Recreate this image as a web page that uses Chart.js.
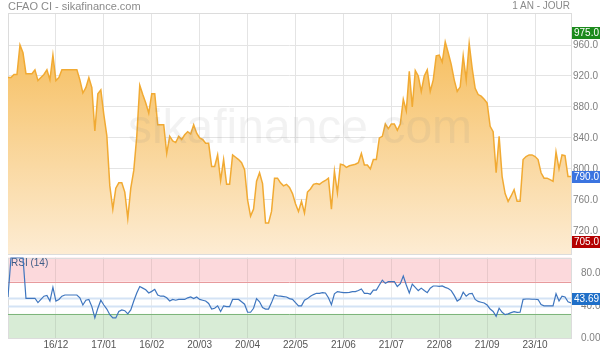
<!DOCTYPE html>
<html>
<head>
<meta charset="utf-8">
<script src="https://cdn.jsdelivr.net/npm/chart.js@4/dist/chart.umd.min.js"></script>
<style>
  html, body { margin: 0; padding: 0; background: #fff; }
  #cadre { position: relative; width: 600px; height: 351px; overflow: hidden; font-family: "Liberation Sans", Arial, sans-serif; }
  #titre { position: absolute; left: 8px; top: 0; font-size: 11px; line-height: 12px; color: #8a8a8a; }
  #periode { position: absolute; right: 30px; top: 0; font-size: 10px; line-height: 12px; color: #8a8a8a; }
  #cours { position: absolute; left: 0; top: 0; }
  #rsi { position: absolute; left: 0; top: 256px; }
</style>
</head>
<body>
<div id="cadre">
  <canvas id="cours" width="600" height="256"></canvas>
  <canvas id="rsi" width="600" height="95"></canvas>
  <div id="titre">CFAO CI - sikafinance.com</div>
  <div id="periode">1 AN - JOUR</div>
</div>
<script>
// cours de clôture (1 an, quotidien)
const prix = [
  918, 918, 922, 922, 960, 950, 923, 923, 923, 928,
  914, 918, 922, 928, 915, 947, 914, 918, 928, 928,
  928, 928, 928, 928, 915, 898, 905, 918, 905, 849,
  897, 902, 870, 843, 778, 748, 775, 782, 782, 770,
  736, 775, 798, 842, 908, 896, 885, 872, 897, 897,
  857, 857, 857, 820, 842, 836, 834, 842, 838, 844,
  848, 845, 857, 846, 840, 838, 833, 833, 803, 803,
  818, 785, 812, 780, 780, 818, 815, 812, 808, 799,
  760, 739, 748, 784, 795, 781, 730, 730, 745, 788,
  788, 782, 778, 780, 776, 768, 755, 745, 758, 743,
  770, 774, 780, 781, 780, 783, 785, 788, 748, 797,
  769, 806, 805, 802, 804, 805, 806, 808, 820, 805,
  805, 800, 812, 812, 840, 842, 858, 852, 858, 858,
  850, 858, 890, 875, 926, 880, 927, 920, 900, 920,
  928, 900, 915, 946, 947, 938, 964, 950, 935, 915,
  900, 906, 946, 915, 962, 930, 904, 896, 894, 890,
  885, 855, 848, 795, 842, 790, 768, 758, 765, 773,
  758, 758, 812, 816, 818, 818, 816, 812, 795, 788,
  788, 786, 784, 822, 800, 818, 817, 790, 790
];

// RSI (14)
const rsi = [
  51, 100, 100, 100, 100, 100, 49.4, 49.4, 49.4, 49.4,
  44, 48, 52, 53, 46, 63, 46, 48, 52, 53.5,
  53.5, 53.5, 53.5, 53.5, 50, 41, 47, 48, 39, 25,
  37, 47, 41, 36, 29, 25, 25, 33, 35, 34,
  30, 35, 46, 56, 64, 62, 60, 56, 58, 60.5,
  53.5, 52, 52, 50, 46, 48, 47, 48, 48, 48,
  50, 51, 49, 51, 48, 47, 46, 43, 36, 37,
  40, 33, 40, 39, 39, 48, 48, 48, 45, 42,
  32, 32, 37, 49, 45, 38, 36, 36, 44, 53.5,
  52.5, 52, 51.5, 51, 49, 48, 44, 40, 40, 47,
  49, 52, 54, 55.6, 55.6, 56.4, 56, 50, 41.5, 55,
  57.7, 57, 56.4, 56.4, 56.8, 57.7, 57.7, 59, 61, 55.6,
  55.6, 54.5, 59.5, 59.5, 66, 72, 68, 70, 70, 70,
  64, 67.5, 77, 66, 56, 67, 63, 59, 62, 59,
  56.4, 62, 64.7, 64.7, 64.2, 64.7, 63, 61.5, 59, 53,
  46, 48.5, 57, 52, 55, 55.6, 48, 45.5, 44.5, 43.5,
  41, 36, 33, 27, 37, 32, 29, 30, 31.5, 32.8,
  31.8, 32, 48, 48.5, 48.5, 48.2, 48.2, 47.8, 41.5, 40,
  40, 40, 40, 55, 46, 52, 51, 45, 43.69
];

// axe des dates
const dates = ['16/12', '17/01', '16/02', '20/03', '20/04', '22/05', '21/06', '21/07', '22/08', '21/09', '23/10'];
const datesIdx = [16, 32, 48, 64, 80, 96, 112, 128, 144, 160, 176];

// graduations
const prixTicks = [720, 760, 800, 840, 880, 920, 960];
const rsiTicks = [0, 40, 80];
const rsiTickLabels = ['0.0000', '40.00', '80.00'];

// repères à droite : plus haut, dernier, plus bas
const reperes = [975, prix[prix.length - 1], 705];
const reperesCouleurs = ['#1b8a1b', '#3b74e0', '#b40000'];

const police = '"Liberation Sans", Arial, sans-serif';

// bordure de la zone de tracé
const bordure = {
  id: 'bordure',
  beforeDatasetsDraw(chart) {
    const { ctx, chartArea: a } = chart;
    ctx.save();
    ctx.strokeStyle = '#dcdcdc';
    ctx.lineWidth = 1;
    ctx.strokeRect(Math.round(a.left) + 0.5, Math.round(a.top) + 0.5, Math.round(a.right - a.left), Math.round(a.bottom - a.top));
    ctx.restore();
  }
};

// filigrane sikafinance.com
const filigrane = {
  id: 'filigrane',
  afterDatasetsDraw(chart) {
    const ctx = chart.ctx;
    ctx.save();
    ctx.font = '48px ' + police;
    ctx.fillStyle = 'rgba(140,140,140,0.11)';
    ctx.textAlign = 'center';
    ctx.textBaseline = 'alphabetic';
    ctx.fillText('sikafinance.com', 300, 143);
    ctx.restore();
  }
};

// étiquettes colorées sur l'axe de droite
function etiquette(ctx, y, texte, couleur) {
  ctx.fillStyle = couleur;
  ctx.fillRect(572, Math.round(y - 6), 28, 12);
  ctx.fillStyle = '#fff';
  ctx.font = '10px ' + police;
  ctx.textAlign = 'left';
  ctx.textBaseline = 'middle';
  ctx.fillText(texte, 574, Math.round(y) + 0.5);
}

const reperesPrix = {
  id: 'reperesPrix',
  afterDraw(chart) {
    const ctx = chart.ctx;
    const y = chart.scales.y;
    ctx.save();
    reperes.forEach((v, i) => etiquette(ctx, y.getPixelForValue(v), v.toFixed(1), reperesCouleurs[i]));
    ctx.restore();
  }
};

// zones de surachat / survente du RSI
const zonesRsi = {
  id: 'zonesRsi',
  beforeDraw(chart) {
    const { ctx, chartArea: a, scales } = chart;
    const y = scales.y;
    ctx.save();
    ctx.fillStyle = '#fcd9dc';
    ctx.fillRect(a.left, y.getPixelForValue(100), a.right - a.left, y.getPixelForValue(70) - y.getPixelForValue(100));
    ctx.fillStyle = '#d8ecd6';
    ctx.fillRect(a.left, y.getPixelForValue(30), a.right - a.left, y.getPixelForValue(0) - y.getPixelForValue(30));
    ctx.restore();
  },
  beforeDatasetsDraw(chart) {
    const { ctx, chartArea: a, scales } = chart;
    const y = scales.y;
    const ligne = (v, couleur, ep) => {
      const py = Math.round(y.getPixelForValue(v)) + 0.5;
      ctx.strokeStyle = couleur;
      ctx.lineWidth = ep;
      ctx.beginPath();
      ctx.moveTo(a.left, py);
      ctx.lineTo(a.right, py);
      ctx.stroke();
    };
    ctx.save();
    ligne(70, '#e79a9d', 1);
    ligne(30, '#7db57b', 1);
    ligne(50, '#d4e3f5', 2);
    ligne(40, '#d4e3f5', 2);
    ctx.fillStyle = '#3e5c86';
    ctx.font = '10px ' + police;
    ctx.textBaseline = 'middle';
    ctx.fillText('RSI (14)', 11, y.getPixelForValue(93));
    ctx.restore();
  },
  afterDraw(chart) {
    const ctx = chart.ctx;
    const y = chart.scales.y;
    ctx.save();
    const dernier = rsi[rsi.length - 1];
    etiquette(ctx, y.getPixelForValue(dernier) - 4, dernier.toFixed(2), '#1f6fc8');
    ctx.restore();
  }
};

// largeur fixe des axes de droite, sans marge pour les libellés
const largeurAxe = scale => {
  scale.width = 29;
  scale.paddingTop = 0;
  scale.paddingBottom = 0;
};

// graphique des cours
new Chart(document.getElementById('cours'), {
  type: 'line',
  data: {
    datasets: [{
      data: prix.map((v, i) => ({ x: i, y: v })),
      borderColor: '#f1aa33',
      borderWidth: 1.5,
      pointRadius: 0,
      tension: 0,
      fill: 'start',
      backgroundColor: ctx => {
        const { chart } = ctx;
        const a = chart.chartArea;
        if (!a) return 'rgba(246,190,95,0.6)';
        const g = chart.ctx.createLinearGradient(0, a.top, 0, a.bottom);
        g.addColorStop(0, '#f5b84f');
        g.addColorStop(1, '#fdecd3');
        return g;
      }
    }]
  },
  options: {
    responsive: false,
    animation: false,
    devicePixelRatio: 1,
    layout: { padding: { top: 13, left: 8, right: 0, bottom: 2 } },
    plugins: { legend: { display: false }, tooltip: { enabled: false } },
    scales: {
      x: {
        type: 'linear',
        min: 0,
        max: prix.length - 1,
        afterBuildTicks: axe => { axe.ticks = datesIdx.map(v => ({ value: v })); },
        afterFit: axe => { axe.height = 0; axe.paddingLeft = 0; axe.paddingRight = 0; },
        ticks: { display: false },
        grid: { color: '#e4e4e4', drawTicks: false },
        border: { display: false }
      },
      y: {
        position: 'right',
        min: 690,
        max: 1001.4,
        afterBuildTicks: axe => { axe.ticks = prixTicks.map(v => ({ value: v })); },
        afterFit: largeurAxe,
        ticks: { color: '#808080', font: { size: 10, family: police }, padding: 2, callback: v => v.toFixed(1) },
        grid: { color: '#e4e4e4', drawTicks: false },
        border: { display: false }
      }
    }
  },
  plugins: [bordure, filigrane, reperesPrix]
});

// graphique du RSI
new Chart(document.getElementById('rsi'), {
  type: 'line',
  data: {
    datasets: [{
      data: rsi.map((v, i) => ({ x: i, y: v })),
      borderColor: '#3f76bf',
      borderWidth: 1.2,
      pointRadius: 0,
      tension: 0,
      fill: false
    }]
  },
  options: {
    responsive: false,
    animation: false,
    devicePixelRatio: 1,
    layout: { padding: { top: 1.6, left: 8, right: 0, bottom: 0 } },
    plugins: { legend: { display: false }, tooltip: { enabled: false } },
    scales: {
      x: {
        type: 'linear',
        min: 0,
        max: rsi.length - 1,
        afterBuildTicks: axe => { axe.ticks = datesIdx.map(v => ({ value: v })); },
        afterFit: axe => { axe.height = 13; axe.paddingLeft = 0; axe.paddingRight = 0; },
        ticks: {
          color: '#555',
          font: { size: 10, family: police },
          padding: 1,
          maxRotation: 0,
          autoSkip: false,
          callback: v => dates[datesIdx.indexOf(v)]
        },
        grid: { color: 'rgba(0,0,0,0.08)', drawTicks: false },
        border: { display: false }
      },
      y: {
        position: 'right',
        min: 0,
        max: 100,
        afterBuildTicks: axe => { axe.ticks = rsiTicks.map(v => ({ value: v })); },
        afterFit: largeurAxe,
        ticks: { color: '#808080', font: { size: 10, family: police }, padding: 2, callback: v => rsiTickLabels[rsiTicks.indexOf(v)] },
        grid: { display: false },
        border: { display: false }
      }
    }
  },
  plugins: [bordure, zonesRsi]
});
</script>
</body>
</html>
